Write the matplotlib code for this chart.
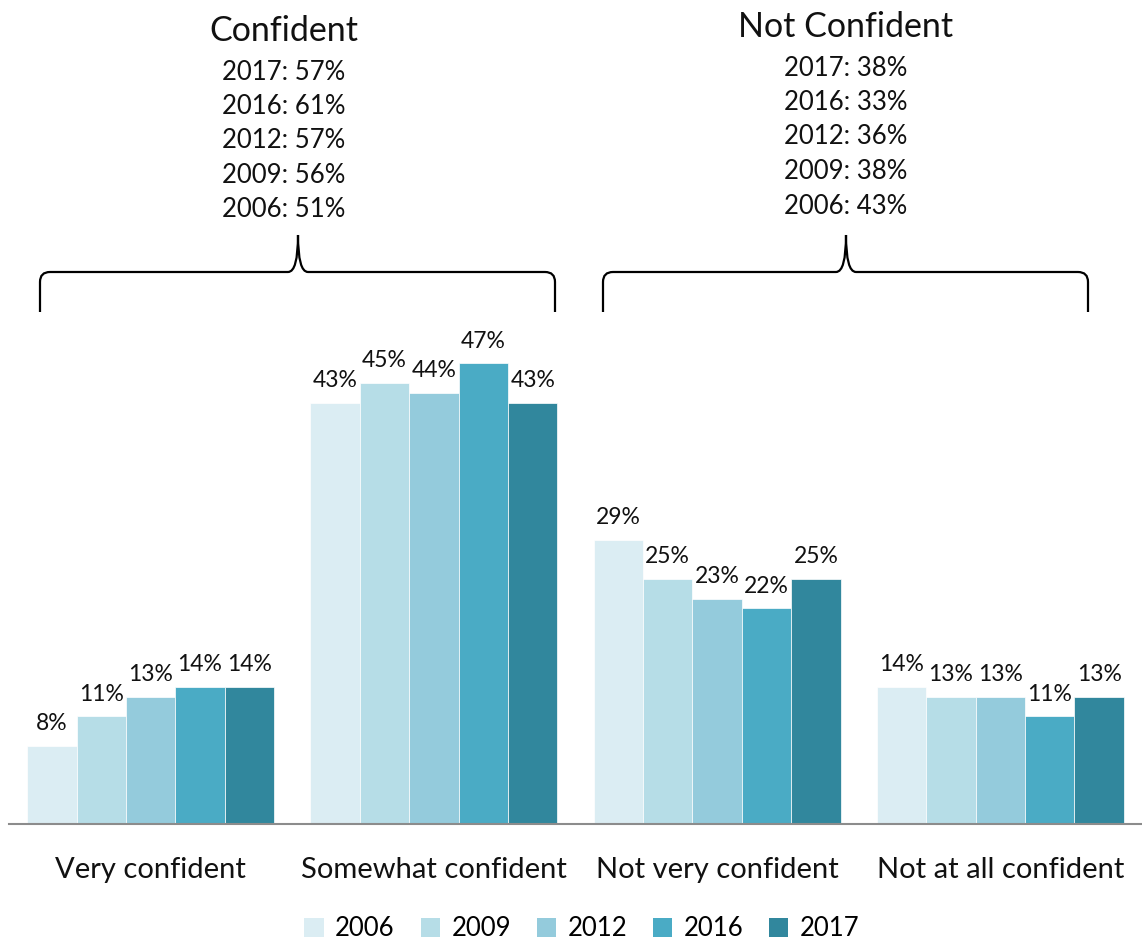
import matplotlib
matplotlib.use("Agg")
import matplotlib.pyplot as plt
import numpy as np
from matplotlib.path import Path
from matplotlib.patches import PathPatch, Patch

plt.rcParams['font.family'] = ['Lato', 'DejaVu Sans']

categories = ["Very confident", "Somewhat confident", "Not very confident", "Not at all confident"]
years = ["2006", "2009", "2012", "2016", "2017"]
values = {
    "2006": [8, 43, 29, 14],
    "2009": [11, 45, 25, 13],
    "2012": [13, 44, 23, 13],
    "2016": [14, 47, 22, 11],
    "2017": [14, 43, 25, 13],
}
colors = ["#dbedf3", "#b6dde7", "#94cbdc", "#4aabc5", "#31879d"]

confident_totals = [("2017", 57), ("2016", 61), ("2012", 57), ("2009", 56), ("2006", 51)]
not_confident_totals = [("2017", 38), ("2016", 33), ("2012", 36), ("2009", 38), ("2006", 43)]

W, H = 1142, 940
fig = plt.figure(figsize=(W / 100, H / 100), dpi=100)

base_px = 824
px_per_pct = 9.8
ymax = 50
ax_left, ax_right = 9, 1142
ax = fig.add_axes([ax_left / W, 1 - base_px / H, (ax_right - ax_left) / W, ymax * px_per_pct / H])
ax.set_xlim(-0.5, 3.5)
ax.set_ylim(0, ymax)

x = np.arange(len(categories))
bw = 0.1744
for i, (yr, c) in enumerate(zip(years, colors)):
    pos = x + (i - 2) * bw
    ax.bar(pos, values[yr], width=bw, color=c, edgecolor='white', linewidth=0.5, zorder=2)
    for xb, v in zip(pos, values[yr]):
        ax.text(xb, v + 1.6, f"{v}%", ha='center', va='baseline', fontsize=16.5, color='#111111')

for s in ['top', 'right', 'left']:
    ax.spines[s].set_visible(False)
ax.spines['bottom'].set_color('#8c8c8c')
ax.spines['bottom'].set_linewidth(1.5)
ax.set_yticks([])
ax.set_xticks(x)
ax.set_xticklabels(categories, fontsize=21, color='#111111')
ax.tick_params(axis='x', length=0, pad=24)


def brace(x0, x1, xm, y_end, y_bar, y_tip, r=10):
    """Draw a horizontal curly brace in pixel coordinates (origin top-left)."""
    def P(px, py):
        return (px / W, 1 - py / H)
    verts = [
        P(x0, y_end), P(x0, y_bar + r), P(x0, y_bar), P(x0 + r, y_bar),
        P(xm - r, y_bar), P(xm, y_bar), P(xm, y_tip),
        P(xm, y_bar), P(xm + r, y_bar),
        P(x1 - r, y_bar), P(x1, y_bar), P(x1, y_bar + r), P(x1, y_end),
    ]
    codes = [
        Path.MOVETO, Path.LINETO, Path.CURVE3, Path.CURVE3,
        Path.LINETO, Path.CURVE3, Path.CURVE3,
        Path.CURVE3, Path.CURVE3,
        Path.LINETO, Path.CURVE3, Path.CURVE3, Path.LINETO,
    ]
    patch = PathPatch(Path(verts, codes), transform=fig.transFigure, fill=False,
                      edgecolor='black', linewidth=1.6, capstyle='butt')
    fig.add_artist(patch)


brace(40, 555, 298, 312, 272, 235)
brace(603, 1088, 846, 312, 272, 235)


def group_header(cx, title_y, title, totals, first_y):
    fig.text(cx / W, 1 - title_y / H, title, ha='center', va='center', fontsize=24.5, color='#111111')
    for k, (yr, v) in enumerate(totals):
        fig.text(cx / W, 1 - (first_y + k * 34.5) / H, f"{yr}: {v}%", ha='center', va='center',
                 fontsize=18.5, color='#111111')


group_header(284, 31, "Confident", confident_totals, 72)
group_header(846, 27, "Not Confident", not_confident_totals, 68)

handles = [Patch(facecolor=c, edgecolor='none') for c in colors]
fig.legend(handles, years, loc='center', bbox_to_anchor=(582 / W, 1 - 929 / H), ncol=5,
           frameon=False, fontsize=18.5, handlelength=0.75, handleheight=0.75,
           handletextpad=0.45, columnspacing=1.0)

fig.savefig("out.png", dpi=100, facecolor='white')
